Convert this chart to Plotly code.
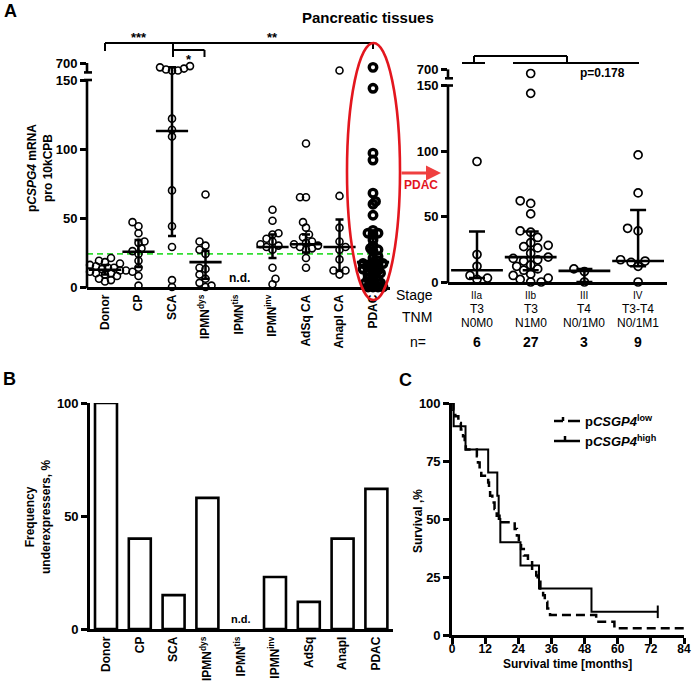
import plotly.graph_objects as go

W, H = 695, 690
FONT = "Liberation Sans, Arial, Helvetica, sans-serif"

# ---------------- data ----------------
tissue_labels = ["Donor", "CP", "SCA", "IPMN<sup>dys</sup>", "IPMN<sup>tis</sup>",
                 "IPMN<sup>inv</sup>", "AdSq CA", "Anapl CA", "PDAC"]
freq_labels = ["Donor", "CP", "SCA", "IPMN<sup>dys</sup>", "IPMN<sup>tis</sup>",
               "IPMN<sup>inv</sup>", "AdSq", "Anapl", "PDAC"]

donor = [21, 19, 18, 17, 16, 15, 14, 14, 13, 13, 12, 12, 11, 10, 10, 9, 8, 6, 5, 4]
cp = [47, 44, 39, 33, 32, 28, 26, 24, 19, 14, 11, 8, 1]
sca = [600, 560, 520, 490, 460, 450, 122, 114, 109, 70, 44, 29, 5, 0]
ipmn_dys = [67, 33, 30, 27, 24, 14, 13, 9, 6, 3, 1, 0]
ipmn_tis = []
ipmn_inv = [56, 48, 39, 38, 35, 33, 31, 30, 29, 27, 14, 6, 2]
adsq_ca = [104, 65, 65, 47, 43, 38, 36, 33, 32, 31, 30, 29, 28, 27, 21, 14]
anapl_ca = [460, 66, 43, 33, 29, 27, 20, 12, 12, 9]

stage_iia = [92, 21, 12, 5, 3, 2]
stage_iib = [560, 144, 62, 60, 52, 39, 38, 34, 30, 28, 27, 26, 22, 19, 18, 17,
             16, 13, 12, 10, 9, 6, 5, 3, 2, 0, 0]
stage_iii = [10, 8, 0]
stage_iv = [97, 68, 41, 39, 17, 16, 15, 12, 0]
pdac = stage_iia + stage_iib + stage_iii + stage_iv

tissue_values = [donor, cp, sca, ipmn_dys, ipmn_tis, ipmn_inv, adsq_ca, anapl_ca, pdac]
tissue_median = [12.5, 25.5, 113, 18, None, 29, 31, 29, 18]
tissue_q1 = [9, 14.5, 37, 6, None, 21, 25, 12, 9]
tissue_q3 = [16, 34, 560, 26, None, 38, 38, 49, 38]
cutoff = 24

stage_labels = ["IIa", "IIb", "III", "IV"]
tnm_t = ["T3", "T3", "T4", "T3-T4"]
tnm_nm = ["N0M0", "N1M0", "N0/1M0", "N0/1M1"]
stage_n = [6, 27, 3, 9]
stage_values = [stage_iia, stage_iib, stage_iii, stage_iv]
stage_median = [9, 19, 8.5, 16]
stage_q1 = [3, 9, 0, 12]
stage_q3 = [38.5, 38.5, 10, 55]

y_ticks_a = [0, 50, 100, 150, 700]

freq_values = [100, 40, 15, 58, None, 23, 12, 40, 62]

km_low_t = [0, 0.5, 1.2, 2.3, 3.2, 4.0, 4.6, 5.0, 9.0, 9.4, 10.0, 10.6, 13.1, 13.4,
            13.8, 14.6, 15.4, 16.2, 17.2, 22.7, 23.5, 24.2, 25.0, 26.0, 27.5, 29.0,
            30.5, 31.0, 32.0, 33.0, 33.6, 34.5, 35.5, 52.2, 58.8, 84.0]
km_low_s = [100, 97.1, 94.3, 91.4, 88.6, 85.7, 82.9, 80.0, 77.1, 74.3, 71.4, 68.6,
            65.7, 62.9, 60.0, 57.1, 54.3, 51.4, 48.6, 45.7, 42.9, 40.0, 37.1, 34.3,
            31.4, 28.6, 25.7, 22.9, 20.0, 17.1, 14.3, 11.4, 8.6, 5.7, 2.9, 2.9]
km_high_t = [0, 0.6, 4.9, 13.1, 16.4, 16.9, 17.5, 24.8, 31.5, 50.5, 74.5]
km_high_s = [100, 90, 80, 70, 60, 50, 40, 30, 20, 10, 10]
km_high_censor_t = [74.5]
km_high_censor_s = [10]
km_x_ticks = [0, 12, 24, 36, 48, 60, 72, 84]
km_y_ticks = [0, 25, 50, 75, 100]

# ---------------- geometry (pixels) ----------------
BREAK_AT = 150
BREAK_SCALE = 12.3 / 550
BREAK_FOOT = 155.5
YMAX_A = 180


def brk(v):
    return v if v <= BREAK_AT else BREAK_AT + (v - BREAK_AT) * BREAK_SCALE


def PX(px):
    return px / W


def PY(py):
    return 1 - py / H


AL = dict(left=87, right=390, c0=105, dc=33.5, base=287, ppu=1.38)
AR = dict(left=448, right=667, c0=477, dc=53.7, base=282, ppu=1.31)
BB = dict(left=90, right=393, c0=106, dc=33.8, base=629, ppu=2.26)
CC = dict(left=452, right=684, base=635, top=403)


def cat_px(g, i):
    return g["c0"] + i * g["dc"]


def swarm_offsets(vals, g, sep_px, step_px):
    idx = sorted(range(len(vals)), key=lambda i: brk(vals[i]))
    placed = []
    out = [0.0] * len(vals)
    for n, i in enumerate(idx):
        y = brk(vals[i]) * g["ppu"]
        best = None
        for j in range(0, 60):
            for sgn in ((1, -1) if n % 2 else (-1, 1)):
                c = sgn * j * step_px
                if all((c - px) ** 2 + (y - py) ** 2 >= sep_px ** 2 for px, py in placed):
                    best = c
                    break
            if best is not None:
                break
        placed.append((best, y))
        out[i] = best / g["dc"]
    return out


fig = go.Figure()
BLACK = "black"

# ---------- Panel A left ----------
fig.add_trace(go.Scatter(x=[(AL["left"] - AL["c0"]) / AL["dc"], (AL["right"] - AL["c0"]) / AL["dc"]],
                         y=[cutoff, cutoff], mode="lines",
                         line=dict(color="#33dd33", width=1.6, dash="6px,4px"),
                         xaxis="x", yaxis="y", hoverinfo="skip"))

for i, vals in enumerate(tissue_values):
    if not vals:
        continue
    is_pdac = (i == len(tissue_values) - 1)
    offs = swarm_offsets(vals, AL, 3.6 if is_pdac else 6.0, 2.5 if is_pdac else 3.0)
    fig.add_trace(go.Scatter(
        x=[i + o for o in offs], y=[brk(v) for v in vals], mode="markers",
        marker=dict(symbol="circle-open", size=7.5 if is_pdac else 7,
                    color=BLACK, line=dict(width=3.4 if is_pdac else 1.6, color=BLACK)),
        xaxis="x", yaxis="y", cliponaxis=False, hoverinfo="skip"))

mi = [i for i, m in enumerate(tissue_median) if m is not None]
fig.add_trace(go.Scatter(
    x=mi, y=[brk(tissue_median[i]) for i in mi], mode="markers",
    marker=dict(symbol="line-ew-open", size=23, color=BLACK,
                line=dict(width=2.6, color=BLACK)),
    error_y=dict(type="data", symmetric=False,
                 array=[brk(tissue_q3[i]) - brk(tissue_median[i]) for i in mi],
                 arrayminus=[brk(tissue_median[i]) - brk(tissue_q1[i]) for i in mi],
                 color=BLACK, thickness=2.5, width=4),
    xaxis="x", yaxis="y", cliponaxis=False, hoverinfo="skip"))

# ---------- Panel A right ----------
for i, vals in enumerate(stage_values):
    offs = swarm_offsets(vals, AR, 7.5, 3.5)
    fig.add_trace(go.Scatter(
        x=[i + o for o in offs], y=[brk(v) for v in vals], mode="markers",
        marker=dict(symbol="circle-open", size=8, color=BLACK,
                    line=dict(width=1.7, color=BLACK)),
        xaxis="x2", yaxis="y2", cliponaxis=False, hoverinfo="skip"))

fig.add_trace(go.Scatter(
    x=list(range(len(stage_median))), y=[brk(m) for m in stage_median], mode="markers",
    marker=dict(symbol="line-ew-open", size=37, color=BLACK,
                line=dict(width=2.6, color=BLACK)),
    error_y=dict(type="data", symmetric=False,
                 array=[brk(q) - brk(m) for q, m in zip(stage_q3, stage_median)],
                 arrayminus=[brk(m) - brk(q) for q, m in zip(stage_q1, stage_median)],
                 color=BLACK, thickness=2.5, width=8),
    xaxis="x2", yaxis="y2", cliponaxis=False, hoverinfo="skip"))

# ---------- Panel B ----------
fig.add_trace(go.Bar(
    x=list(range(len(freq_values))), y=freq_values, width=0.65,
    marker=dict(color="white", line=dict(color=BLACK, width=2.6)),
    xaxis="x3", yaxis="y3", cliponaxis=False, hoverinfo="skip"))

# ---------- Panel C ----------
fig.add_trace(go.Scatter(x=km_low_t, y=km_low_s, mode="lines",
                         line=dict(color=BLACK, width=2.5, dash="9px,5px", shape="hv"),
                         xaxis="x4", yaxis="y4", cliponaxis=False, hoverinfo="skip"))
fig.add_trace(go.Scatter(x=km_high_t, y=km_high_s, mode="lines",
                         line=dict(color=BLACK, width=2.0, shape="hv"),
                         xaxis="x4", yaxis="y4", cliponaxis=False, hoverinfo="skip"))
fig.add_trace(go.Scatter(x=km_high_censor_t, y=km_high_censor_s, mode="markers",
                         marker=dict(symbol="line-ns-open", size=9, color=BLACK,
                                     line=dict(width=2, color=BLACK)),
                         xaxis="x4", yaxis="y4", cliponaxis=False, hoverinfo="skip"))


# ---------------- axes ----------------
def bold(t):
    return "<b>%s</b>" % t


TICKFONT = dict(family=FONT, size=12, color=BLACK)
YTICKFONT = dict(family=FONT, size=13, color=BLACK)
common = dict(showgrid=False, zeroline=False, automargin=False, color=BLACK,
              linecolor=BLACK, tickcolor=BLACK)


def cat_range(g):
    return [(g["left"] - g["c0"]) / g["dc"], (g["right"] - g["c0"]) / g["dc"]]


layout = dict(
    width=W, height=H, margin=dict(l=0, r=0, t=0, b=0), autosize=False,
    template="none", paper_bgcolor="white", plot_bgcolor="rgba(0,0,0,0)",
    showlegend=False, font=dict(family=FONT, color=BLACK),
    xaxis=dict(domain=[PX(AL["left"]), PX(AL["right"])], range=cat_range(AL),
               tickvals=list(range(len(tissue_labels))),
               ticktext=[bold(t) for t in tissue_labels], tickangle=-90,
               showline=True, linewidth=2.6, ticks="", tickfont=TICKFONT,
               anchor="y", **common),
    yaxis=dict(domain=[PY(AL["base"]), PY(AL["base"] - YMAX_A * AL["ppu"])],
               range=[0, YMAX_A], tickvals=[brk(t) for t in y_ticks_a],
               ticktext=[bold(t) for t in y_ticks_a], showline=False,
               ticks="outside", ticklen=6, tickwidth=2.5, tickfont=YTICKFONT,
               anchor="x", **common),
    xaxis2=dict(domain=[PX(AR["left"]), PX(AR["right"])], range=cat_range(AR),
                showticklabels=False, showline=True, linewidth=2.6, ticks="",
                anchor="y2", **common),
    yaxis2=dict(domain=[PY(AR["base"]), PY(AR["base"] - YMAX_A * AR["ppu"])],
                range=[0, YMAX_A], tickvals=[brk(t) for t in y_ticks_a],
                ticktext=[bold(t) for t in y_ticks_a], showline=False,
                ticks="outside", ticklen=6, tickwidth=2.5, tickfont=YTICKFONT,
                anchor="x2", **common),
    xaxis3=dict(domain=[PX(BB["left"]), PX(BB["right"])], range=cat_range(BB),
                tickvals=list(range(len(freq_labels))),
                ticktext=[bold(t) for t in freq_labels], tickangle=-90,
                showline=True, linewidth=2.6, ticks="", tickfont=TICKFONT,
                anchor="y3", **common),
    yaxis3=dict(domain=[PY(BB["base"]), PY(BB["base"] - 100 * BB["ppu"])],
                range=[0, 100], tickvals=[0, 50, 100],
                ticktext=[bold(t) for t in [0, 50, 100]], showline=True, linewidth=2.6,
                ticks="outside", ticklen=6, tickwidth=2.5, tickfont=YTICKFONT,
                anchor="x3", **common),
    xaxis4=dict(domain=[PX(CC["left"]), PX(CC["right"])], range=[0, 84],
                tickvals=km_x_ticks, ticktext=[bold(t) for t in km_x_ticks],
                tickangle=0, showline=True, linewidth=2.6, ticks="outside", ticklen=6,
                tickwidth=2.5, tickfont=TICKFONT, ticklabelstandoff=-5,
                anchor="y4", **common),
    yaxis4=dict(domain=[PY(CC["base"]), PY(CC["top"])], range=[0, 100],
                tickvals=km_y_ticks, ticktext=[bold(t) for t in km_y_ticks],
                showline=True, linewidth=2.6, ticks="outside", ticklen=6, tickwidth=2.5,
                tickfont=YTICKFONT, anchor="x4", **common),
)
fig.update_layout(**layout)

# ---------------- shapes ----------------
shapes = []


def pline(x0, y0, x1, y1, w=2.0, color=BLACK):
    shapes.append(dict(type="line", xref="paper", yref="paper", x0=PX(x0), y0=PY(y0),
                       x1=PX(x1), y1=PY(y1), line=dict(color=color, width=w)))


# broken y axes of panel A
for g in (AL, AR):
    xa = g["left"]
    yb = g["base"]
    y150 = yb - brk(150) * g["ppu"]
    yfoot = yb - BREAK_FOOT * g["ppu"]
    y700 = yb - brk(700) * g["ppu"]
    pline(xa, yb + 1.3, xa, y150, 2.6)
    pline(xa - 3, y150, xa + 5, y150, 2.6)
    pline(xa, yfoot, xa, y700, 2.6)
    pline(xa - 3, yfoot, xa + 5, yfoot, 2.6)

# significance brackets (panel A left)
x_donor, x_sca, x_dys, x_pdac = (cat_px(AL, 0), cat_px(AL, 2), cat_px(AL, 3), cat_px(AL, 8))
pline(x_donor, 43, x_pdac, 43, 2.0)
pline(x_donor, 43, x_donor, 51, 2.0)
pline(x_sca + 1, 43, x_sca + 1, 57, 2.0)
pline(x_sca + 1, 50, x_dys - 1, 50, 2.0)
pline(x_dys - 1, 50, x_dys - 1, 57, 2.0)
pline(x_pdac, 43, x_pdac, 49, 2.0)

# brackets (panel A right)
pline(462, 63, 485, 63, 2.0)
pline(513, 63, 639, 63, 2.0)
pline(474, 56, 567, 56, 2.0)
pline(474, 56, 474, 63, 2.0)
pline(567, 56, 567, 63, 2.0)

# red ellipse around PDAC
shapes.append(dict(type="circle", xref="paper", yref="paper",
                   x0=PX(x_pdac - 26), x1=PX(x_pdac + 27), y0=PY(300), y1=PY(43),
                   line=dict(color="#e3161e", width=2.6)))

# legend samples (panel C)
pline(554, 421, 563, 421, 2.5)
pline(563, 417, 563, 421, 2.5)
pline(568, 421, 580, 421, 2.5)
pline(554, 441, 580, 441, 2.5)
pline(565, 436, 565, 441, 2.5)

fig.update_layout(shapes=shapes)

# ---------------- annotations ----------------
ann = []


def text(x, y, s, size=12, color=BLACK, angle=0, xanchor="center", xref="paper", xval=None):
    ann.append(dict(x=PX(x) if xval is None else xval, y=PY(y), xref=xref, yref="paper",
                    text=s, showarrow=False, textangle=angle, xanchor=xanchor,
                    yanchor="middle", font=dict(family=FONT, size=size, color=color)))


text(10, 11, bold("A"), 18)
text(9, 379, bold("B"), 18)
text(405, 380, bold("C"), 18)
text(368, 18, bold("Pancreatic tissues"), 15)
text(40, 168, bold("p<i>CSPG4</i> mRNA<br>pro 10kCPB"), 12, angle=-90)
text((x_donor + x_sca) / 2, 38, bold("***"), 13)
text((x_sca + x_pdac) / 2, 38, bold("**"), 13)
text((x_sca + x_dys) / 2, 59, bold("*"), 13)
text(cat_px(AL, 4), 278, bold("n.d."), 12)
text(421, 185, bold("PDAC"), 12, color="#e3161e")
text(602, 73, bold("p=0.178"), 12)

text(415, 295, "Stage", 14)
text(417, 317, "TNM", 14)
text(418, 342, "n=", 14)
for i in range(len(stage_labels)):
    text(0, 295, stage_labels[i], 10, xref="x2", xval=i)
    text(0, 309, tnm_t[i], 12, xref="x2", xval=i)
    text(0, 323, tnm_nm[i], 12, xref="x2", xval=i)
    text(0, 342, bold(stage_n[i]), 14, xref="x2", xval=i)

text(38, 517, bold("Frequency<br>underexpressers, %"), 12, angle=-90)
text(cat_px(BB, 4), 619, bold("n.d."), 11)

text(418, 521, bold("Survival ,%"), 12, angle=-90)
text(567, 664, bold("Survival time [months]"), 12)
text(583, 421, bold("p<i>CSGP4</i><sup>low</sup>"), 13, xanchor="left")
text(583, 441, bold("p<i>CSGP4</i><sup>high</sup>"), 13, xanchor="left")

# red arrow
ann.append(dict(x=PX(441), y=PY(173), xref="paper", yref="paper", text="",
                showarrow=True, ax=-41, ay=0, arrowhead=2, arrowsize=1,
                arrowwidth=3, arrowcolor="#ef4040"))

fig.update_layout(annotations=ann)

# the page body has a default 8px margin; remove it so the figure sits at (0, 0)
fig.write_html("out.html", config={"displayModeBar": False},
               post_script="document.body.style.margin='0';document.body.style.padding='0';")
